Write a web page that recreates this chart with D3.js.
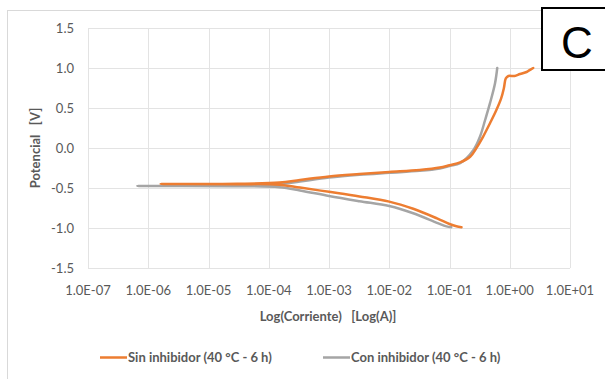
<!DOCTYPE html>
<html>
<head>
<meta charset="utf-8">
<script src="https://cdnjs.cloudflare.com/ajax/libs/d3/7.8.5/d3.min.js"></script>
<style>
  body { margin: 0; background: #fff; }
  svg { display: block; }
</style>
</head>
<body>
<div class="App"></div>
<script>
// Sin inhibidor: current (A) and potential (V), cathodic end -> anodic end
let sinCorriente = [0.158, 0.13, 0.1, 0.062, 0.025, 0.01, 0.0032, 0.001, 0.00033, 0.00015, 0.00003, 0.0000016,
  0.00003, 0.00015, 0.00033, 0.001, 0.0032, 0.01, 0.032, 0.069, 0.1, 0.15, 0.22, 0.28, 0.36, 0.47, 0.6, 0.72, 0.8, 0.86, 0.95, 1.2, 1.48, 1.9, 2.1, 2.45];
let sinPotencial = [-0.99, -0.978, -0.95, -0.88, -0.76, -0.67, -0.605, -0.548, -0.495, -0.458, -0.452, -0.45,
  -0.447, -0.432, -0.40, -0.355, -0.325, -0.30, -0.275, -0.245, -0.215, -0.18, -0.11, 0.0, 0.14, 0.31, 0.475, 0.62, 0.75, 0.87, 0.9, 0.9, 0.925, 0.95, 0.97, 1.0];

// Con inhibidor
let conCorriente = [0.107, 0.089, 0.062, 0.025, 0.01, 0.0032, 0.001, 0.00033, 0.00015, 0.00003, 0.00000066,
  0.00003, 0.00015, 0.00033, 0.001, 0.0032, 0.01, 0.032, 0.069, 0.1, 0.15, 0.25, 0.32, 0.39, 0.47, 0.57, 0.62];
let conPotencial = [-0.99, -0.98, -0.935, -0.815, -0.725, -0.665, -0.60, -0.53, -0.49, -0.477, -0.475,
  -0.473, -0.455, -0.42, -0.37, -0.335, -0.31, -0.285, -0.255, -0.225, -0.19, -0.025, 0.14, 0.35, 0.56, 0.81, 1.0];

let xTicks = [1e-7, 1e-6, 1e-5, 1e-4, 1e-3, 1e-2, 1e-1, 1e0, 1e1];
let yTicks = [1.5, 1.0, 0.5, 0.0, -0.5, -1.0, -1.5];
let seriesNames = ['Sin inhibidor (40 °C - 6 h)', 'Con inhibidor (40 °C - 6 h)'];
let seriesColors = ['#ED7D31', '#A5A5A5'];

let width = 605, height = 379;
let font = "Lato, 'Open Sans', sans-serif";

let svg = d3.select(".App").append("svg")
  .attr("width", width)
  .attr("height", height);

// chart frame
svg.append("rect")
  .attr("x", 7.5).attr("y", 10.5)
  .attr("width", 700).attr("height", 400)
  .attr("fill", "#fff")
  .attr("stroke", "#D9D9D9");

let x = d3.scaleLog().domain([1e-7, 1e1]).range([88, 570]);
let y = d3.scaleLinear().domain([-1.5, 1.5]).range([268, 28]);

let fmtExp = function(d) {
  let e = Math.round(Math.log10(d));
  return "1.0E" + (e < 0 ? "-" : "+") + String(Math.abs(e)).padStart(2, "0");
};

// gridlines
svg.append("g")
  .selectAll("line.vgrid")
  .data(xTicks)
  .enter().append("line")
  .attr("x1", d => Math.round(x(d)) + 0.5).attr("x2", d => Math.round(x(d)) + 0.5)
  .attr("y1", y(1.5)).attr("y2", y(-1.5))
  .attr("stroke", "#E3E3E3");

svg.append("g")
  .selectAll("line.hgrid")
  .data(yTicks)
  .enter().append("line")
  .attr("x1", x(1e-7)).attr("x2", x(1e1))
  .attr("y1", d => Math.round(y(d)) + 0.5).attr("y2", d => Math.round(y(d)) + 0.5)
  .attr("stroke", "#E3E3E3");

// tick labels
svg.append("g")
  .selectAll("text")
  .data(xTicks)
  .enter().append("text")
  .attr("x", d => x(d))
  .attr("y", 295)
  .attr("text-anchor", "middle")
  .attr("font-family", font)
  .attr("font-size", 13)
  .attr("fill", "#595959")
  .text(fmtExp);

svg.append("g")
  .selectAll("text")
  .data(yTicks)
  .enter().append("text")
  .attr("x", 74)
  .attr("y", d => y(d) + 4.5)
  .attr("text-anchor", "end")
  .attr("font-family", font)
  .attr("font-size", 13)
  .attr("fill", "#595959")
  .text(d => d3.format(".1f")(d).replace("−", "-"));

// axis titles
svg.append("text")
  .attr("x", 328).attr("y", 321)
  .attr("text-anchor", "middle")
  .attr("font-family", font)
  .attr("font-size", 13)
  .attr("font-weight", "bold")
  .attr("fill", "#595959")
  .attr("xml:space", "preserve")
  .text("Log(Corriente)   [Log(A)]");

svg.append("text")
  .attr("transform", "translate(40,148) rotate(-90)")
  .attr("text-anchor", "middle")
  .attr("font-family", font)
  .attr("font-size", 13)
  .attr("font-weight", "bold")
  .attr("fill", "#595959")
  .attr("xml:space", "preserve")
  .text("Potencial   [V]");

// curves
let lineSmooth = d3.line()
  .x(d => x(d[0]))
  .y(d => y(d[1]))
  .curve(d3.curveCatmullRom.alpha(0.5));

let series = [
  d3.zip(sinCorriente, sinPotencial),
  d3.zip(conCorriente, conPotencial)
];

// gray first so the orange one sits on top
[1, 0].forEach(function(i) {
  svg.append("path")
    .datum(series[i])
    .attr("fill", "none")
    .attr("stroke", seriesColors[i])
    .attr("stroke-width", 2.5)
    .attr("stroke-linejoin", "round")
    .attr("stroke-linecap", "round")
    .attr("d", lineSmooth);
});

// legend
let legendX = [100, 323];
seriesNames.forEach(function(name, i) {
  svg.append("line")
    .attr("x1", legendX[i]).attr("x2", legendX[i] + 27)
    .attr("y1", 357.5).attr("y2", 357.5)
    .attr("stroke", seriesColors[i])
    .attr("stroke-width", 2.5);
  svg.append("text")
    .attr("x", legendX[i] + 28).attr("y", 362)
    .attr("font-family", font)
    .attr("font-size", 13)
    .attr("font-weight", "bold")
    .attr("fill", "#595959")
    .text(name);
});

// panel label
svg.append("rect")
  .attr("x", 542).attr("y", 8)
  .attr("width", 70).attr("height", 62)
  .attr("fill", "#fff")
  .attr("stroke", "#000")
  .attr("stroke-width", 2);

svg.append("text")
  .attr("x", 577).attr("y", 58)
  .attr("text-anchor", "middle")
  .attr("font-family", "'Liberation Sans', Arial, sans-serif")
  .attr("font-size", 44)
  .attr("fill", "#000")
  .text("C");
</script>
</body>
</html>
